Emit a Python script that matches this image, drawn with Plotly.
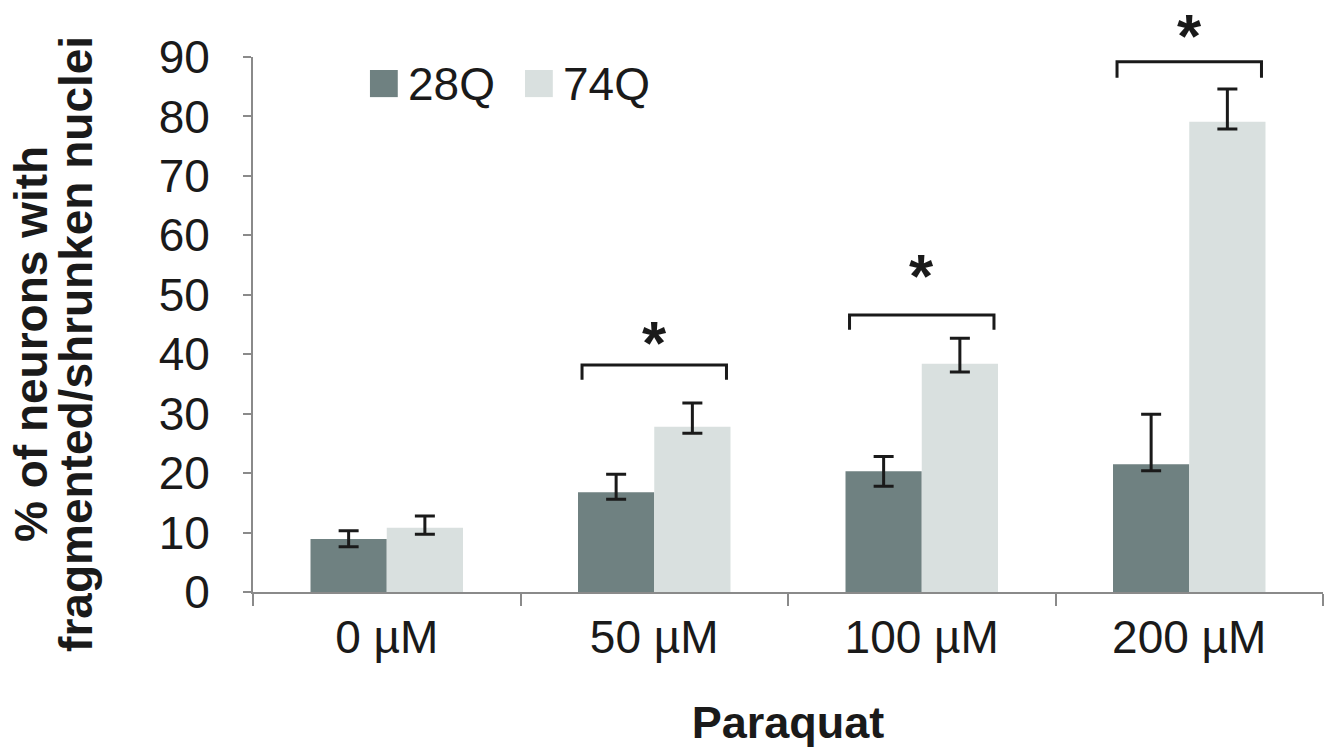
import plotly.graph_objects as go

categories = ["0 µM", "50 µM", "100 µM", "200 µM"]
series_names = ["28Q", "74Q"]
q28 = [8.9, 16.8, 20.3, 21.5]
q28_err_plus = [1.4, 3.0, 2.5, 8.4]
q28_err_minus = [1.3, 1.2, 2.5, 1.1]
q74 = [10.8, 27.8, 38.4, 79.1]
q74_err_plus = [2.0, 4.0, 4.3, 5.5]
q74_err_minus = [1.1, 1.1, 1.4, 1.2]

# significance brackets: category index, bracket level, leg bottom
sig_idx = [1, 2, 3]
sig_level = [38.2, 46.6, 89.2]
sig_leg = [35.7, 44.1, 86.5]
sig_label = ["*", "*", "*"]

y_title_lines = ["% of neurons with", "fragmented/shrunken nuclei"]

FONT = "Liberation Sans, Arial, sans-serif"
TXT = "#1a1a1a"
C28 = "#6f8181"
C74 = "#d9e0df"
colors = [C28, C74]

fig = go.Figure()
err_style = dict(type="data", symmetric=False, color=TXT, thickness=3, width=10)
fig.add_trace(go.Bar(name=series_names[0], x=categories, y=q28, marker=dict(color=C28, line=dict(width=0)),
                     error_y=dict(array=q28_err_plus, arrayminus=q28_err_minus, **err_style)))
fig.add_trace(go.Bar(name=series_names[1], x=categories, y=q74, marker=dict(color=C74, line=dict(width=0)),
                     error_y=dict(array=q74_err_plus, arrayminus=q74_err_minus, **err_style)))

half = 0.27
star_gap_px = [31, 48, 35]  # distance of star centre above bracket (style)
for i, lvl, leg, lab, gap in zip(sig_idx, sig_level, sig_leg, sig_label, star_gap_px):
    fig.add_shape(type="path",
                  path=f"M {i-half},{leg} L {i-half},{lvl} L {i+half},{lvl} L {i+half},{leg}",
                  xref="x", yref="y", line=dict(color=TXT, width=3))
    fig.add_annotation(x=i, y=lvl, xref="x", yref="y", text=f"<b>{lab}</b>", showarrow=False,
                       yanchor="bottom", yshift=-45 + gap, font=dict(family=FONT, size=62, color=TXT))

# legend (large square swatches) drawn in paper coordinates
leg_sq_x = [0.1093, 0.2542]
leg_sq_w = 0.026
leg_y0, leg_y1 = 0.925, 0.9757
for nm, col, lx in zip(series_names, colors, leg_sq_x):
    fig.add_shape(type="rect", xref="paper", yref="paper", x0=lx, x1=lx + leg_sq_w,
                  y0=leg_y0, y1=leg_y1, fillcolor=col, line=dict(width=0))
    fig.add_annotation(x=lx + leg_sq_w + 0.008, y=(leg_y0 + leg_y1) / 2, xref="paper", yref="paper",
                       text=nm, showarrow=False, xanchor="left", yanchor="middle",
                       font=dict(family=FONT, size=46, color=TXT))

# y-axis title (two tightly spaced lines)
for line, px in zip(y_title_lines, [-0.2075, -0.1655]):
    fig.add_annotation(x=px, y=0.4636, xref="paper", yref="paper", text=f"<b>{line}</b>",
                       textangle=-90, showarrow=False, xanchor="center", yanchor="middle",
                       font=dict(family=FONT, size=46, color=TXT))

fig.update_layout(
    width=1336, height=750,
    margin=dict(l=253, r=13, t=57, b=158),
    paper_bgcolor="white", plot_bgcolor="white",
    barmode="group", bargap=0.43, bargroupgap=0,
    font=dict(family=FONT, color=TXT),
    showlegend=False,
)
fig.update_xaxes(
    showline=True, linecolor="#8a8a8a", linewidth=2,
    ticks="outside", tickson="boundaries", ticklen=12, tickcolor="#8a8a8a", tickwidth=2,
    tickfont=dict(family=FONT, size=46, color=TXT), ticklabelstandoff=4,
    title=dict(text="<b>Paraquat</b>", font=dict(family=FONT, size=45, color=TXT), standoff=44),
    showgrid=False,
)
fig.update_yaxes(
    range=[0, 90], tickvals=[0, 10, 20, 30, 40, 50, 60, 70, 80, 90],
    showline=True, linecolor="#8a8a8a", linewidth=2,
    ticks="outside", ticklen=8, tickcolor="#8a8a8a", tickwidth=2,
    tickfont=dict(family=FONT, size=46, color=TXT), ticklabelstandoff=24,
    showgrid=False, zeroline=False,
)

fig.write_html("out.html")
